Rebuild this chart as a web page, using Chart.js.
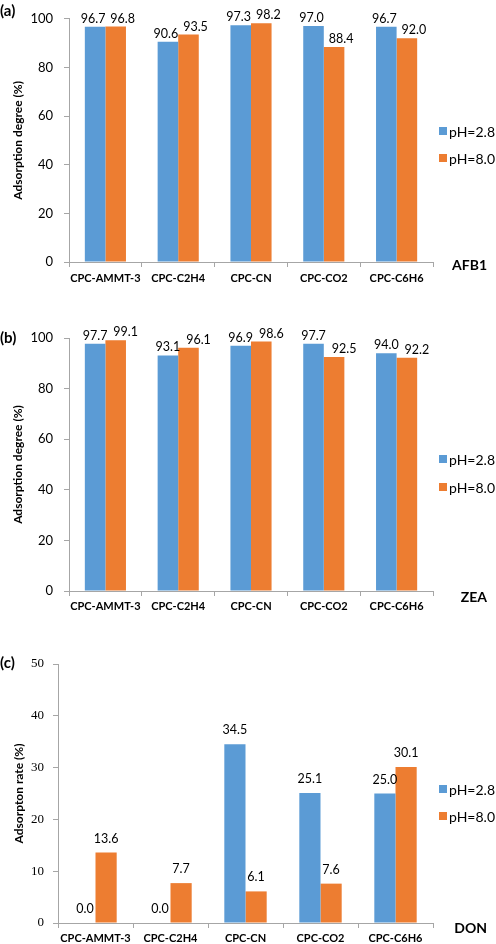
<!DOCTYPE html>
<html><head><meta charset="utf-8">
<script src="https://cdn.jsdelivr.net/npm/chart.js@4.4.1/dist/chart.umd.min.js"></script>
<style>
html,body{margin:0;padding:0;background:#fff}
body{width:496px;height:944px;position:relative;overflow:hidden}
canvas{position:absolute;left:0}
</style></head><body>
<canvas id="ca" style="top:0px;width:496px;height:290px"></canvas>
<canvas id="cb" style="top:290px;width:496px;height:325px"></canvas>
<canvas id="cc" style="top:615px;width:496px;height:329px"></canvas>
<script>
const categories = ['CPC-AMMT-3', 'CPC-C2H4', 'CPC-CN', 'CPC-CO2', 'CPC-C6H6'];
const seriesNames = ['pH=2.8', 'pH=8.0'];
const afb1_ph28 = [96.7, 90.6, 97.3, 97.0, 96.7];
const afb1_ph80 = [96.8, 93.5, 98.2, 88.4, 92.0];
const zea_ph28 = [97.7, 93.1, 96.9, 97.7, 94.0];
const zea_ph80 = [99.1, 96.1, 98.6, 92.5, 92.2];
const don_ph28 = [0.0, 0.0, 34.5, 25.1, 25.0];
const don_ph80 = [13.6, 7.7, 6.1, 7.6, 30.1];
const yTicksAB = {min: 0, max: 100, step: 20};
const yTicksC = {min: 0, max: 50, step: 10};

const BLUE = '#5B9BD5', ORANGE = '#ED7D31', AXIS = '#A6A6A6';

const overlay = {
  id: 'overlay',
  afterDatasetsDraw(chart, args, o) {
    const ctx = chart.ctx;
    ctx.save();
    ctx.fillStyle = '#000';
    ctx.textAlign = 'center';
    ctx.textBaseline = 'middle';
    ctx.font = '12.5px Lato';
    chart.data.datasets.forEach((ds, i) => {
      chart.getDatasetMeta(i).data.forEach((el, j) => {
        ctx.fillText(ds.data[j].toFixed(1), el.x + o.dx[i], el.y - o.gap);
      });
    });
    // legend
    ctx.textAlign = 'left';
    ctx.font = '14px Lato';
    chart.data.datasets.forEach((ds, i) => {
      const y = o.legendY[i];
      ctx.fillStyle = ds.backgroundColor;
      ctx.fillRect(439, y - 4, 8, 8);
      ctx.fillStyle = '#000';
      ctx.fillText(ds.label, 449, y + 1);
    });
    ctx.font = 'bold 15px Lato';
    ctx.fillText(o.panel, 0, o.panelY);
    ctx.font = 'bold 14px Lato';
    ctx.textAlign = 'right';
    ctx.fillText(o.tag, 487, o.tagY);
    ctx.restore();
  }
};

function makeChart(id, h, s1, s2, yt, cfg) {
  const cv = document.getElementById(id);
  cv.width = 496; cv.height = h;
  return new Chart(cv, {
    type: 'bar',
    data: {
      labels: categories,
      datasets: [
        {label: seriesNames[0], data: s1, backgroundColor: BLUE, categoryPercentage: 0.565, barPercentage: 1},
        {label: seriesNames[1], data: s2, backgroundColor: ORANGE, categoryPercentage: 0.565, barPercentage: 1}
      ]
    },
    options: {
      responsive: false,
      animation: false,
      devicePixelRatio: 1,
      layout: {padding: {top: cfg.top, right: 63, left: 0, bottom: 0}},
      plugins: {
        legend: {display: false},
        tooltip: {enabled: false},
        overlay: cfg.ov
      },
      scales: {
        x: {
          afterFit: s => { s.height = cfg.xh; },
          grid: {display: true, drawOnChartArea: false, drawTicks: true, tickLength: 5, color: AXIS, offset: true},
          border: {display: true, color: AXIS, width: 1},
          ticks: {color: '#000', font: {family: 'Lato', size: 11, weight: 'bold'}, padding: cfg.xpad, maxRotation: 0, autoSkip: false}
        },
        y: {
          min: yt.min, max: yt.max,
          afterFit: s => { s.width = cfg.yw; },
          grid: {display: true, drawOnChartArea: false, drawTicks: true, tickLength: 5, color: AXIS},
          border: {display: true, color: AXIS, width: 1},
          ticks: {stepSize: yt.step, color: '#000', padding: cfg.ypad, font: cfg.yfont},
          title: {display: true, text: cfg.ytitle, color: '#000', font: {family: 'Lato', size: 12, weight: 'bold'}, padding: {top: cfg.tpad, bottom: 0}}
        }
      }
    },
    plugins: [overlay]
  });
}

makeChart('ca', 290, afb1_ph28, afb1_ph80, yTicksAB, {
  top: 10, xh: 28, xpad: 5, yw: 69, ypad: 11, tpad: 11,
  yfont: {family: 'Lato', size: 13},
  ytitle: 'Adsorption degree (%)',
  ov: {gap: 8, dx: [-2, 7], legendY: [131, 158], panel: '(a)', panelY: 11, tag: 'AFB1', tagY: 265}
});
makeChart('cb', 325, zea_ph28, zea_ph80, yTicksAB, {
  top: 48, xh: 24, xpad: 4, yw: 69, ypad: 11, tpad: 11,
  yfont: {family: 'Lato', size: 13},
  ytitle: 'Adsorption degree (%)',
  ov: {gap: 8, dx: [0, 10], legendY: [169, 197], panel: '(b)', panelY: 48, tag: 'ZEA', tagY: 307}
});
makeChart('cc', 329, don_ph28, don_ph80, yTicksC, {
  top: 49, xh: 21, xpad: 4, yw: 58, ypad: 9, tpad: 12,
  yfont: {family: 'Liberation Serif', size: 13},
  ytitle: 'Adsorpton rate (%)',
  ov: {gap: 14, dx: [0, 0], legendY: [174, 201], panel: '(c)', panelY: 48, tag: 'DON', tagY: 313}
});
</script>
</body></html>
